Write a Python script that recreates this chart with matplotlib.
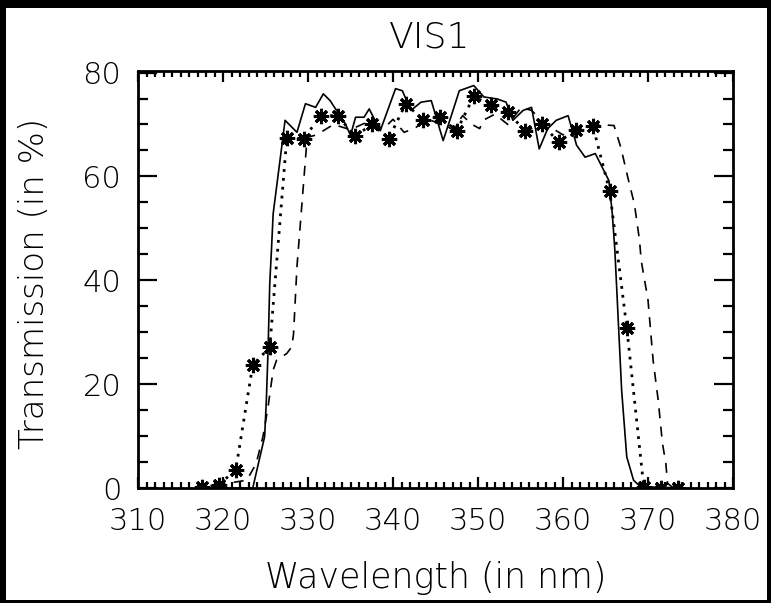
import matplotlib
matplotlib.use("Agg")
import matplotlib.pyplot as plt
from matplotlib.patches import Rectangle
from matplotlib.ticker import MultipleLocator

# ---- data ----
lam_solid = [317.0, 323.5, 324.9, 325.1, 325.3, 325.5, 325.7, 325.9, 326.9, 327.3,
             328.7, 329.7, 330.9, 331.8, 332.6, 334.4, 335.0, 335.6, 336.6, 337.2,
             338.5, 340.3, 341.1, 342.1, 343.3, 344.5, 345.9, 346.8, 347.8, 349.5,
             350.7, 352.3, 353.3, 354.1, 355.3, 356.3, 357.2, 358.2, 359.2, 360.6,
             361.6, 362.6, 363.8, 365.4, 365.8, 366.1, 366.9, 367.5, 368.3, 369.1, 374.0]
t_solid = [0.0, 0.0, 9.9, 16.9, 26.5, 39.4, 45.8, 52.8, 65.6, 70.8,
           68.5, 74.0, 73.3, 75.9, 74.6, 70.1, 67.9, 71.4, 71.4, 73.0,
           68.8, 76.9, 76.5, 72.7, 74.3, 74.6, 66.9, 71.4, 76.5, 77.5,
           75.3, 74.9, 74.3, 70.8, 72.7, 73.3, 65.3, 69.2, 70.8, 71.7,
           66.0, 63.7, 64.4, 59.2, 52.8, 45.8, 18.8, 6.0, 1.5, 0.25, 0.0]

lam_dash = [317.0, 322.8, 323.9, 324.7, 325.3, 325.9, 326.3, 327.5, 328.1, 328.3,
            328.7, 329.3, 329.9, 331.0, 333.0, 335.0, 337.0, 338.9, 340.0, 341.3,
            342.5, 344.0, 346.0, 347.0, 348.2, 349.2, 350.2, 350.6, 352.0, 353.5,
            355.1, 356.3, 358.0, 360.0, 362.0, 364.0, 366.0, 366.8, 367.8, 368.4,
            369.0, 369.2, 370.0, 370.6, 371.2, 371.7, 372.1, 372.3, 373.0, 374.0]
t_dash = [0.0, 1.5, 4.7, 9.9, 15.6, 22.7, 24.6, 25.9, 27.2, 29.7,
          42.6, 55.0, 67.5, 68.0, 70.0, 69.0, 70.5, 69.2, 71.0, 68.5,
          69.2, 71.0, 70.0, 69.0, 71.7, 70.1, 69.2, 70.8, 72.0, 70.0,
          73.3, 72.7, 70.0, 68.0, 69.0, 70.0, 69.8, 65.6, 58.6, 54.7,
          47.7, 43.8, 36.2, 24.6, 16.9, 8.6, 4.7, 0.9, 0.0, 0.0]

lam_ast = [317.5, 319.5, 321.5, 323.5, 325.5, 327.5, 329.5, 331.5, 333.5, 335.5,
           337.5, 339.5, 341.5, 343.5, 345.5, 347.5, 349.5, 351.5, 353.5, 355.5,
           357.5, 359.5, 361.5, 363.5, 365.5, 367.5, 369.5, 371.5, 373.5]
t_ast = [0.1, 0.6, 3.5, 23.7, 27.1, 67.4, 67.3, 71.7, 71.7, 67.7,
         70.0, 67.3, 74.0, 70.9, 71.4, 68.8, 75.4, 73.7, 72.4, 68.8,
         70.1, 66.6, 69.0, 69.8, 57.1, 30.9, 0.2, 0.0, 0.0]

x_ticks = [310, 320, 330, 340, 350, 360, 370, 380]
y_ticks = [0, 20, 40, 60, 80]

FONT = "DejaVu Sans"

fig = plt.figure(figsize=(7.71, 6.03), dpi=100, facecolor="black")
fig.patches.append(Rectangle((6 / 771, 3 / 603), (767 - 6) / 771, (595 - 3) / 603,
                             transform=fig.transFigure, facecolor="white",
                             edgecolor="none", zorder=-10))

ax = fig.add_axes([138 / 771, (603 - 488) / 603, (733 - 138) / 771, (488 - 71) / 603])
ax.set_facecolor("white")

ax.plot(lam_solid, t_solid, color="black", lw=1.2, ls="-")
ax.plot(lam_dash, t_dash, color="black", lw=1.2, ls=(0, (6, 5)))
ax.plot(lam_ast, t_ast, color="black", lw=2.0, ls=(0, (1, 2.2)),
        marker=(8, 2, 0), markersize=11, markeredgewidth=2.2)

ax.set_xlim(310, 380)
ax.set_ylim(0, 80.3)
ax.set_xticks(x_ticks)
ax.set_yticks(y_ticks)
ax.xaxis.set_minor_locator(MultipleLocator(1))
ax.yaxis.set_minor_locator(MultipleLocator(5))
ax.tick_params(which="both", direction="in", top=True, right=True, width=1.6,
               colors="black", labelsize=22)
ax.tick_params(axis="x", which="major", length=8, pad=14)
ax.tick_params(axis="x", which="minor", length=4)
ax.tick_params(axis="y", which="major", length=14, pad=12)
ax.tick_params(axis="y", which="minor", length=7)
for lab in ax.get_xticklabels() + ax.get_yticklabels():
    lab.set_fontfamily(FONT)
    lab.set_fontweight("light")
for s in ax.spines.values():
    s.set_linewidth(2.0)

fig.text(430 / 771, 1 - 38 / 603, "VIS1", ha="center", va="center",
         fontsize=26, family=FONT, fontweight="light")
fig.text(436 / 771, 1 - 578 / 603, "Wavelength (in nm)", ha="center", va="center",
         fontsize=25, family=FONT, fontweight="light")
fig.text(35 / 771, 1 - 283 / 603, "Transmission (in %)", ha="center", va="center",
         rotation=90, fontsize=24.5, family=FONT, fontweight="light")

fig.savefig("out.png", dpi=100, facecolor=fig.get_facecolor())
